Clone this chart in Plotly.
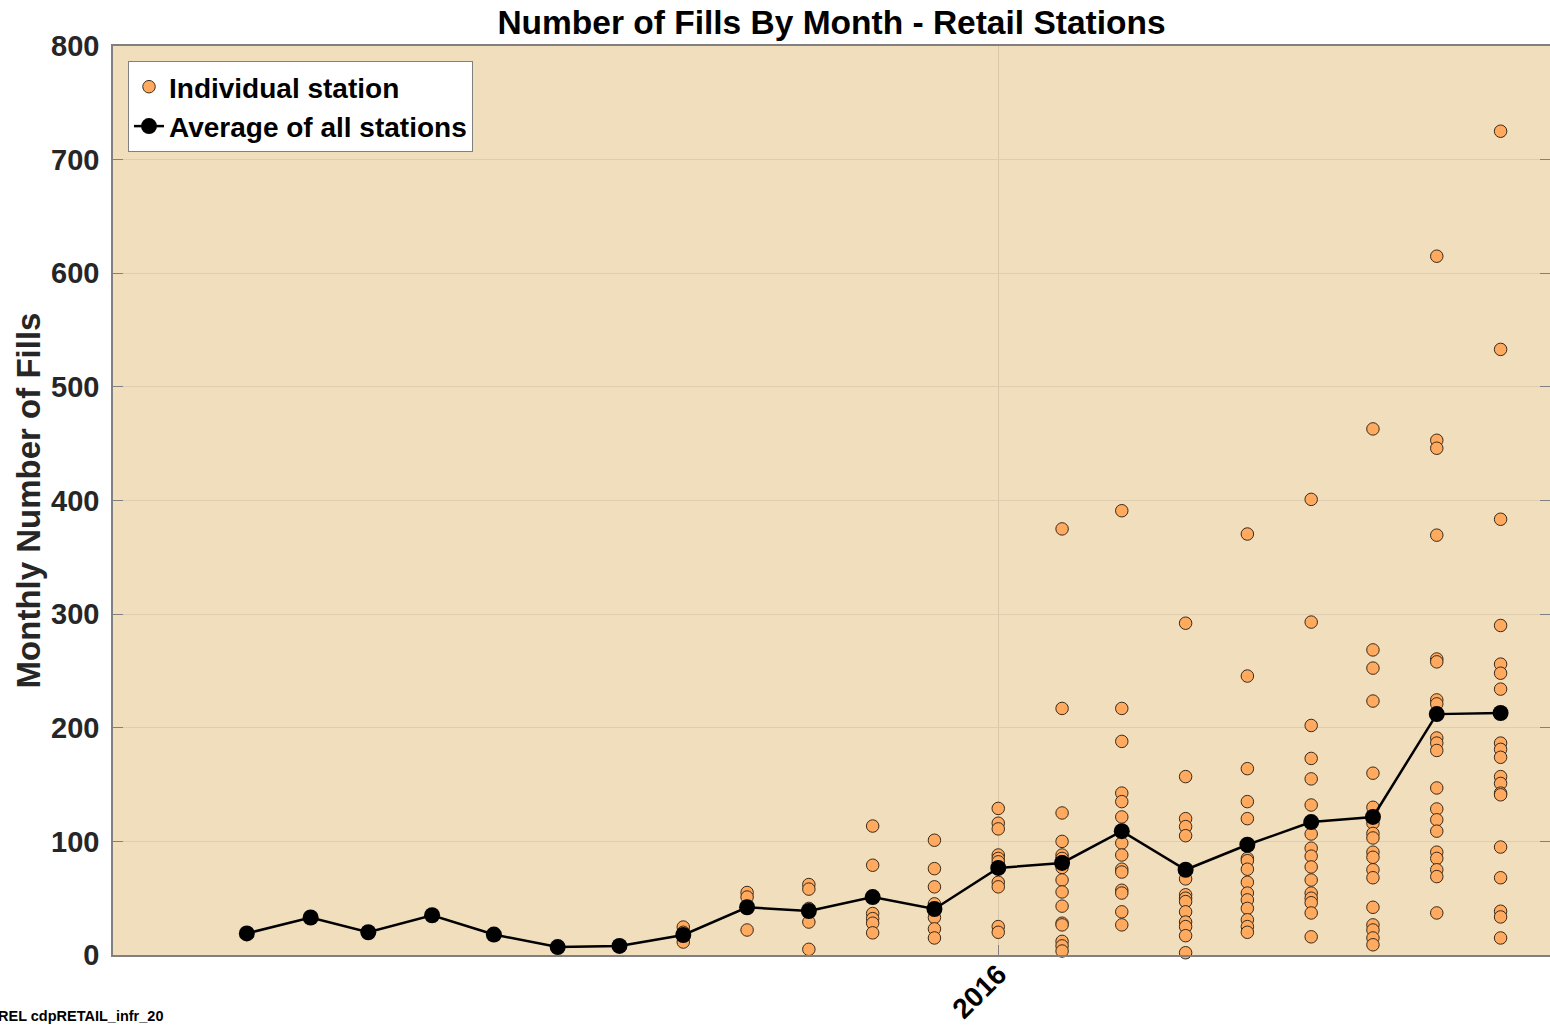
import plotly.graph_objects as go

months = ["2015-01-01", "2015-02-01", "2015-03-01", "2015-04-01", "2015-05-01", "2015-06-01",
          "2015-07-01", "2015-08-01", "2015-09-01", "2015-10-01", "2015-11-01", "2015-12-01",
          "2016-01-01", "2016-02-01", "2016-03-01", "2016-04-01", "2016-05-01", "2016-06-01",
          "2016-07-01", "2016-08-01", "2016-09-01"]

average = [19, 33, 20, 35, 18, 7, 8, 17.6, 42, 38.7, 51, 40.5,
           76.6, 81, 109, 75, 97, 117, 121.5, 212, 213]

st_2015_01 = [19]
st_2015_02 = [33]
st_2015_03 = [20]
st_2015_04 = [35]
st_2015_05 = [18]
st_2015_06 = [7]
st_2015_07 = [8]
st_2015_08 = [24.6, 20, 11.4]
st_2015_09 = [55, 51, 22]
st_2015_10 = [62, 58, 41, 38, 29, 5]
st_2015_11 = [113.5, 79, 36.5, 32, 28, 19.5]
st_2015_12 = [101, 76, 60, 45, 41, 33, 23, 15]
st_2016_01 = [129, 116, 111, 88, 85, 82, 64, 60, 25, 20]
st_2016_02 = [375, 217, 125, 100, 88, 85, 82, 77, 66, 55.5, 43, 28, 26.5, 12, 8, 3.5]
st_2016_03 = [391, 217, 188, 142.5, 135, 121.5, 98.5, 88, 75.5, 73, 57, 54.5, 38, 26.5]
st_2016_04 = [292, 157, 120, 113, 105, 67, 53, 50, 47, 38, 29, 25, 17, 2]
st_2016_05 = [370.5, 245.5, 164, 135, 120, 85, 83, 75.5, 64, 54.5, 48.5, 41, 31, 25, 20]
st_2016_06 = [401, 293, 202, 173, 155, 132, 106.5, 94, 87, 77.5, 66, 54.5, 50, 46, 37, 16]
st_2016_07 = [463, 268.5, 252.5, 223.5, 160, 130, 116, 107, 103, 90.5, 86, 75, 68, 42, 26.5, 22, 15, 9]
st_2016_08 = [615, 453, 446, 369.5, 260.5, 258, 224.5, 221, 191, 186.5, 180, 147, 128.5, 119, 109,
              90.5, 85, 75, 69, 37]
st_2016_09 = [725, 533, 383.5, 290, 256, 248, 234, 186.5, 181, 174, 157, 151, 142.5, 141, 95, 68,
              38.5, 33.5, 15]

stations = [st_2015_01, st_2015_02, st_2015_03, st_2015_04, st_2015_05, st_2015_06, st_2015_07,
            st_2015_08, st_2015_09, st_2015_10, st_2015_11, st_2015_12, st_2016_01, st_2016_02,
            st_2016_03, st_2016_04, st_2016_05, st_2016_06, st_2016_07, st_2016_08, st_2016_09]

y_ticks = [0, 100, 200, 300, 400, 500, 600, 700, 800]

sx, sy = [], []
for m, vals in zip(months, stations):
    for v in vals:
        sx.append(m)
        sy.append(v)

FONT = "Liberation Sans, Arial, sans-serif"

W, H = 1550, 1026
ML, MT, MB = 113, 46, 71
PW = W - ML
PH = H - MT - MB

fig = go.Figure()
fig.add_trace(go.Scatter(
    x=sx, y=sy, mode="markers", name="Individual station",
    marker=dict(size=12.5, color="#FFAA5E", line=dict(color="#3a2a1a", width=1)),
    cliponaxis=False,
))
fig.add_trace(go.Scatter(
    x=months, y=average, mode="lines+markers", name="Average of all stations",
    line=dict(color="black", width=2.5),
    marker=dict(size=16, color="black"),
    cliponaxis=False,
))

fig.update_layout(
    width=W, height=H,
    margin=dict(l=ML, r=0, t=MT, b=MB),
    paper_bgcolor="white",
    plot_bgcolor="#F1DEBD",
    font=dict(family=FONT, color="#262626"),
    title=dict(text="<b>Number of Fills By Month - Retail Stations</b>",
               x=0.5, xref="paper", y=1 - 22 / H, yref="container", yanchor="middle",
               font=dict(size=33.5, color="black", family=FONT)),
    showlegend=True,
    legend=dict(x=15 / PW, y=1 - 15 / PH, xanchor="left", yanchor="top",
                bgcolor="white", bordercolor="#808080", borderwidth=1,
                font=dict(size=28, color="black", family=FONT, weight="bold"),
                tracegroupgap=0, itemsizing="trace"),
)

fig.update_xaxes(
    type="date",
    automargin=False,
    range=["2014-10-28", "2016-09-25"],
    tickvals=["2016-01-01"], ticktext=["<b>2016</b>"],
    tickangle=-45,
    tickfont=dict(size=28, color="black", family=FONT),
    ticklabelstandoff=-10,
    ticks="inside", ticklen=10, tickcolor="#808080",
    showgrid=True, gridcolor="#D9C6A6", gridwidth=1,
    showline=True, linecolor="#808080", linewidth=1.5, mirror=True,
    zeroline=False,
)
fig.update_yaxes(
    automargin=False,
    range=[0, 800],
    tickvals=y_ticks, ticktext=[f"<b>{v}</b>" for v in y_ticks],
    tickfont=dict(size=29, color="#262626", family=FONT),
    ticklabelstandoff=6,
    ticks="inside", ticklen=10, tickcolor="#808080",
    showgrid=True, gridcolor="#E0CCAE", gridwidth=1,
    showline=True, linecolor="#808080", linewidth=1.5, mirror="ticks",
    zeroline=False,
    title=dict(text="<b>Monthly Number of Fills</b>", font=dict(size=33, color="#262626", family=FONT),
               standoff=1),
)

fig.add_annotation(text="<b>REL cdpRETAIL_infr_20</b>", xref="paper", yref="paper",
                   x=-(ML + 4) / PW, y=-(1016 - 955) / PH, xanchor="left", yanchor="middle",
                   showarrow=False, font=dict(size=14.5, color="black", family=FONT))

fig.write_html(
    "out.html",
    config={"displayModeBar": False},
    post_script=(
        "document.documentElement.style.margin='0';"
        "document.documentElement.style.overflow='hidden';"
        "document.body.style.margin='0';"
        "document.body.style.overflow='hidden';"
        "document.body.style.lineHeight='0';"
        "document.body.style.height='1026px';"
    ),
)
